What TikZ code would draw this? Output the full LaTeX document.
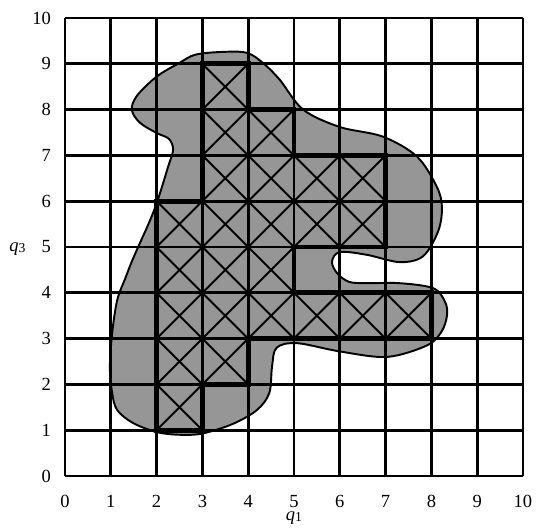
\documentclass[tikz,border=0pt]{standalone}
\usepackage{fontspec}
\setmainfont{Liberation Serif}
\definecolor{blobgray}{RGB}{150,150,150}
\newcommand{\axsub}[1]{{\fontsize{8.5}{10}\selectfont\raisebox{-0.9pt}{#1}}}
\begin{document}
\begin{tikzpicture}[x=1cm,y=1cm,
  gridline/.style={line width=1.8pt,black},
  crossline/.style={line width=1.2pt,black},
  boundline/.style={line width=3pt,black,line join=miter},
  blob/.style={fill=blobgray,draw=black,line width=1.2pt},
  lab/.style={font=\fontsize{11.5}{14}\selectfont,inner sep=0pt}]
\useasboundingbox (-1.419,-1.179) rectangle (10.284,10.393);
% obstacle region
\path[blob] plot[smooth cycle,tension=0.55] coordinates {
 (3.45,9.26) (3.97,9.24) (4.32,9.02) (4.69,8.65) (5.2,8.0) (6.0,7.62)
 (6.94,7.41) (7.69,6.97) (8.12,6.31) (8.23,5.87) (8.15,5.35) (7.82,4.8)
 (7.31,4.67) (6.59,4.83) (6.0,4.89) (5.83,4.68) (5.94,4.43) (6.2,4.24)
 (6.59,4.21) (7.31,4.21) (8.04,4.10) (8.3,3.8) (8.34,3.5) (8.22,3.15)
 (7.9,2.85) (7.03,2.6) (6.0,2.72) (5.07,2.9) (4.62,2.8) (4.52,2.38)
 (4.46,1.81) (4.19,1.44) (3.67,1.14) (3.01,0.93) (2.51,0.9) (2.0,0.96)
 (1.48,1.16) (1.14,1.44) (1.03,1.81) (0.98,2.38) (1.03,3.12) (1.14,3.84)
 (1.31,4.3) (1.5,4.78) (1.86,5.59) (2.05,6.1) (2.25,6.75) (2.36,7.12)
 (2.27,7.36) (2.0,7.49) (1.64,7.71) (1.46,7.99) (1.57,8.3) (2.0,8.72)
 (2.5,9.02) (2.85,9.2)};
% grid
\foreach \i in {0,...,10}{
  \draw[gridline] (\i,0) -- (\i,10);
  \draw[gridline] (0,\i) -- (10,\i);
}
% crossed cells
\foreach \cx/\cy in {3/8, 3/7,4/7, 3/6,4/6,5/6,6/6, 2/5,3/5,4/5,5/5,6/5,
  2/4,3/4,4/4, 2/3,3/3,4/3,5/3,6/3,7/3, 2/2,3/2, 2/1}{
  \draw[crossline] (\cx,\cy) -- ++(1,1);
  \draw[crossline] (\cx+1,\cy) -- ++(-1,1);
}
% boundary of approximated region
\draw[boundline] (2,1) -- (3,1) -- (3,2) -- (4,2) -- (4,3) -- (8,3) -- (8,4)
  -- (5,4) -- (5,5) -- (7,5) -- (7,7) -- (5,7) -- (5,8) -- (4,8) -- (4,9)
  -- (3,9) -- (3,6) -- (2,6) -- cycle;
% axis labels
\foreach \i in {0,...,10}{
  \node[lab,anchor=east] (yl\i) at (-0.3,\i) {\i};
  \node[lab,anchor=base] (xl\i) at (\i,-0.68) {\i};
}
\node[lab,anchor=base] (qone) at (5.0,-0.97) {\textit{q}\axsub{1}};
\node[lab,anchor=base] (qthree) at (-1.04,4.91) {\textit{q}\axsub{3}};
\end{tikzpicture}
\end{document}
